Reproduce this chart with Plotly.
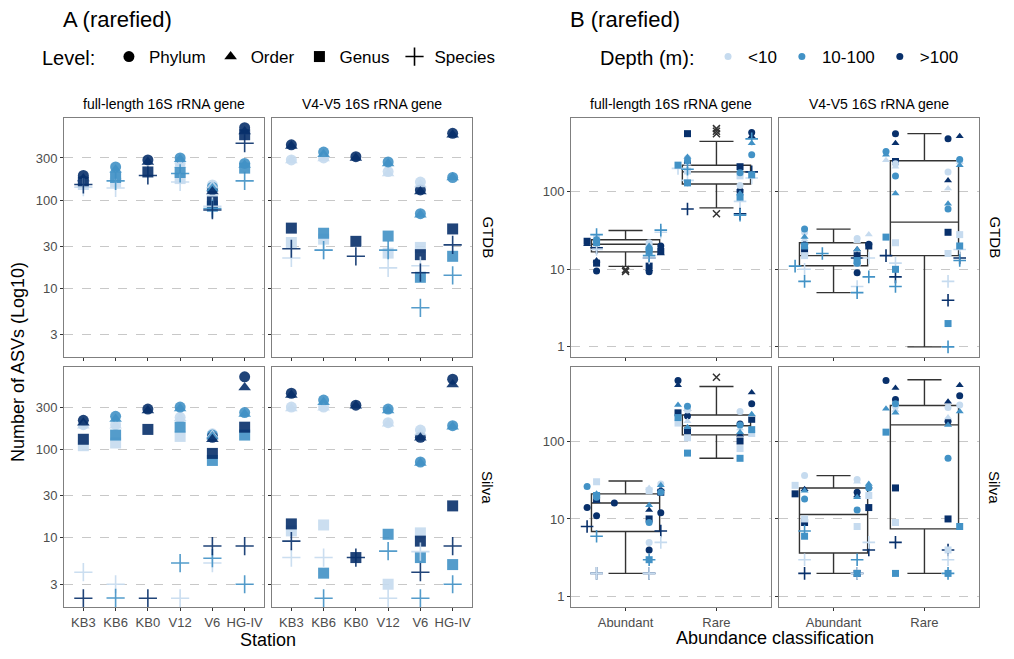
#!/usr/bin/python3

###
# Number of ASVs per taxonomic level (rarefied)
# A: per station, B: abundant vs rare classification

import plotly.graph_objs as go

Stations = ["KB3", "KB6", "KB0", "V12", "V6", "HG-IV"]
Levels = ["Phylum", "Order", "Genus", "Species"]
Depths = ["<10", "10-100", ">100"]
DepthColors = {"L": "#c6dbef", "M": "#4292c6", "D": "#08306b"}
DepthCodes = {"<10": "L", "10-100": "M", ">100": "D"}
Symbols = {"P": "circle", "O": "triangle-up", "G": "square", "S": "cross-thin"}

# Panel A values: level -> depth -> one value per station
GTDB_FULL = {
    "P": {"L": [165, 195, None, 260, 148, None], "M": [None, 237, None, 300, 140, 260], "D": [190, None, 285, None, 130, 660]},
    "O": {"L": [160, 185, None, 250, 145, None], "M": [None, 220, None, 290, 135, 250], "D": [175, None, 270, None, 125, 600]},
    "G": {"L": [150, 160, None, 175, 100, None], "M": [None, 180, None, 205, 85, 230], "D": [160, None, 208, None, 95, 550]},
    "S": {"L": [140, 137, None, 160, 85, None], "M": [None, 165, None, 200, 80, 165], "D": [150, None, 190, None, 77, 440]},
}
GTDB_V4 = {
    "P": {"L": [285, 300, None, 210, 160, None], "M": [None, 350, None, 270, 70, 180], "D": [422, None, 310, None, 130, 570]},
    "O": {"L": [280, 295, None, 200, 150, None], "M": [None, 330, None, 260, 68, 180], "D": [410, None, 300, None, 125, 550]},
    "G": {"L": [33, 36, None, 25, 29, None], "M": [None, 42, None, 39, 13.3, 23], "D": [48, None, 34, None, 24, 47]},
    "S": {"L": [22, 27, None, 17, 18, None], "M": [None, 27, None, 27, 6, 14], "D": [28, None, 23, None, 15, 31]},
}
SILVA_FULL = {
    "P": {"L": [190, 190, None, 230, 150, None], "M": [None, 236, None, 300, 145, 260], "D": [213, None, 285, None, 137, 660]},
    "O": {"L": [185, 185, None, 225, 145, None], "M": [None, 220, None, 290, 140, 250], "D": [200, None, 275, None, 130, 500]},
    "G": {"L": [110, 118, None, 140, None, None], "M": [None, 145, None, 178, 75, 145], "D": [130, None, 168, None, 90, 178]},
    "S": {"L": [4.1, 3, None, 2.08, 5.2, None], "M": [None, 2.1, None, 5.2, 5.9, 3], "D": [2.08, None, 2.08, None, 8.1, 8.1]},
}
SILVA_V4 = {
    "P": {"L": [300, 300, None, 200, 165, None], "M": [None, 360, None, 285, 72, 185], "D": [430, None, 315, None, 137, 620]},
    "O": {"L": [290, 295, None, 195, 155, None], "M": [None, 340, None, 275, 70, 180], "D": [410, None, 310, None, 135, 540]},
    "G": {"L": [12, 14, None, 3, 11.4, None], "M": [None, 4, None, 11, 6, 5], "D": [14.4, None, 6, None, 9.2, 23]},
    "S": {"L": [6, 6, None, 2.08, 7, None], "M": [None, 2.08, None, 7.1, 2.08, 3], "D": [9.2, None, 6, None, 4.1, 8.1]},
}

# Panel B: box statistics per (database, gene) for Abundant, Rare
BoxQ1 = {"GTDB_FULL": [16.8, 126], "GTDB_V4": [11.1, 15], "SILVA_FULL": [6.9, 120], "SILVA_V4": [3.65, 7.45]}
BoxMed = {"GTDB_FULL": [21, 180], "GTDB_V4": [15, 40.6], "SILVA_FULL": [16, 157], "SILVA_V4": [11.4, 161]}
BoxQ3 = {"GTDB_FULL": [24, 219], "GTDB_V4": [22, 251], "SILVA_FULL": [21, 216], "SILVA_V4": [25, 286]}
BoxLow = {"GTDB_FULL": [10.9, 62], "GTDB_V4": [5, 1], "SILVA_FULL": [2, 60], "SILVA_V4": [2, 2]}
BoxHigh = {"GTDB_FULL": [31.6, 446], "GTDB_V4": [33, 560], "SILVA_FULL": [30.7, 500], "SILVA_V4": [36, 612]}
OutX = {"GTDB_FULL": ["Abundant", "Abundant", "Rare", "Rare", "Rare", "Rare"], "GTDB_V4": [], "SILVA_FULL": ["Rare"], "SILVA_V4": []}
OutY = {"GTDB_FULL": [9.4, 9.9, 52, 650, 600, 560], "GTDB_V4": [], "SILVA_FULL": [660], "SILVA_V4": []}

# Panel B: points per sample (value, depth+level code)
GTDB_FULL_AB = [32, 30, 28, 26, 25, 24, 24, 23, 22, 22, 21, 21, 20, 20, 19, 19, 18, 18, 17, 17, 16, 15, 14, 13, 12, 11, 10, 9.5, 9.3, 14]
GTDB_FULL_AB_C = ["MS", "LS", "MS", "LO", "LG", "LP", "MP", "DG", "LP", "MG", "DO", "LO", "DP", "MO", "LG", "DS", "MP", "LS", "MG", "DG", "DO", "MS", "DS", "DO", "DG", "DG", "DO", "DP", "DP", "LS"]
GTDB_FULL_RA = [580, 560, 520, 480, 420, 300, 280, 270, 250, 240, 230, 220, 210, 200, 195, 190, 185, 180, 175, 170, 165, 160, 150, 140, 130, 120, 110, 100, 95, 85, 75, 60, 52, 50]
GTDB_FULL_RA_C = ["DP", "DG", "DO", "MS", "MO", "MP", "MO", "LP", "MP", "DP", "LO", "MG", "DG", "LS", "MS", "DO", "LG", "DS", "MP", "LO", "MG", "LG", "LS", "LS", "MG", "LP", "DO", "DP", "MO", "MG", "LS", "DS", "DS", "MS"]
GTDB_V4_AB = [33, 30, 28, 26, 25, 24, 23, 22, 21, 20, 20, 19, 18, 18, 17, 16, 15, 15, 14, 14, 13, 12, 12, 11, 10, 9, 8, 7, 6, 5]
GTDB_V4_AB_C = ["MP", "LP", "LO", "MO", "LP", "LO", "LO", "DO", "DP", "DG", "MG", "DP", "MO", "DO", "DG", "MS", "DG", "LG", "LS", "DS", "MG", "MP", "LG", "MS", "LS", "DP", "MS", "MS", "LS", "MS"]
GTDB_V4_RA = [560, 520, 480, 420, 330, 300, 260, 255, 250, 245, 240, 230, 220, 210, 180, 160, 140, 110, 95, 70, 60, 30, 28, 26, 22, 20, 18, 16, 15, 14, 13, 12, 10, 8, 7, 6, 4, 2, 1]
GTDB_V4_RA_C = ["DP", "DO", "DP", "DO", "MP", "MO", "MP", "LO", "LP", "DG", "LO", "LP", "MO", "LO", "LP", "MP", "DO", "LO", "MO", "MO", "MP", "DG", "LG", "MG", "LG", "MG", "LS", "LG", "DS", "DS", "MS", "LS", "MG", "DS", "LS", "MS", "DS", "MG", "MS"]
SILVA_FULL_AB = [30, 28, 27, 26, 25, 24, 23, 22, 22, 21, 20, 20, 19, 18, 17, 16, 15, 14, 13, 12, 11, 10, 9, 8, 7, 6, 5, 5, 4, 3, 3, 2, 2, 2, 2]
SILVA_FULL_AB_C = ["LG", "LP", "MO", "MP", "LO", "DO", "LG", "DG", "MP", "MO", "MG", "LP", "MP", "DG", "DO", "DP", "MO", "DP", "DO", "DP", "DP", "DG", "MP", "DS", "DS", "MS", "LS", "LP", "DP", "MG", "MS", "LS", "DS", "DS", "LS"]
SILVA_FULL_RA = [600, 520, 420, 300, 290, 280, 260, 250, 240, 230, 220, 215, 210, 200, 190, 180, 170, 165, 160, 150, 145, 140, 135, 130, 125, 120, 110, 100, 80, 70, 60]
SILVA_FULL_RA_C = ["DP", "DO", "DO", "DP", "MO", "MP", "DO", "LP", "LP", "DG", "MO", "LO", "DP", "MG", "DG", "LO", "LG", "DP", "MP", "MO", "LO", "MG", "DG", "MO", "LG", "DO", "LG", "DG", "LG", "MG", "MG"]
SILVA_V4_AB = [36, 32, 30, 28, 27, 26, 25, 24, 23, 22, 21, 20, 20, 19, 18, 14, 13, 10, 9, 8, 7, 6, 5, 4, 3, 3, 2, 2, 2, 2, 2]
SILVA_V4_AB_C = ["LP", "LP", "LO", "MO", "LG", "DO", "MP", "DO", "MO", "DP", "DG", "DO", "LG", "MO", "MP", "DG", "MP", "LG", "DG", "LG", "MS", "MG", "LS", "DS", "MS", "LS", "DS", "MG", "DG", "DS", "LS"]
SILVA_V4_RA = [600, 520, 480, 380, 340, 320, 300, 290, 280, 270, 260, 250, 240, 230, 200, 180, 160, 130, 60, 25, 10, 9, 8, 5, 4, 4, 3, 2, 2, 2]
SILVA_V4_RA_C = ["DP", "DO", "DO", "DP", "DP", "DO", "MP", "LP", "LP", "LP", "MO", "LO", "MO", "MO", "LO", "DP", "MO", "MG", "MP", "DG", "DG", "LG", "MG", "DS", "LG", "DS", "LS", "MG", "MG", "MS"]

Points = {
    "GTDB_FULL": [(GTDB_FULL_AB, GTDB_FULL_AB_C), (GTDB_FULL_RA, GTDB_FULL_RA_C)],
    "GTDB_V4": [(GTDB_V4_AB, GTDB_V4_AB_C), (GTDB_V4_RA, GTDB_V4_RA_C)],
    "SILVA_FULL": [(SILVA_FULL_AB, SILVA_FULL_AB_C), (SILVA_FULL_RA, SILVA_FULL_RA_C)],
    "SILVA_V4": [(SILVA_V4_AB, SILVA_V4_AB_C), (SILVA_V4_RA, SILVA_V4_RA_C)],
}
Classes = ["Abundant", "Rare"]

W, H = 1014.0, 659.0
OX, OY = 8, 8  # page offset of the figure in the browser
FontName = "Liberation Sans"
Frame = "#7f7f7f"

def px_x(a, b):
    return [(a - OX)/W, (b - OX)/W]

def px_y(top, bottom):
    return [1 - (bottom - OY)/H, 1 - (top - OY)/H]

def note(text, x, y, size, angle=0, xanchor="center"):
    # text at pixel position (x, y), anchored at its middle
    return dict(text=text, x=(x - OX)/W, y=1 - (y - OY)/H, xref="paper", yref="paper", showarrow=False,
                xanchor=xanchor, yanchor="middle", textangle=angle, font=dict(size=size))

def marker_for(code, size):
    col = DepthColors[code[0]]
    if code[1] == "S":
        return dict(symbol="cross-thin", size=size + 2, color=col, line=dict(color=col, width=1.6))
    return dict(symbol=Symbols[code[1]], size=size, color=col, line=dict(width=0))

# Panels: (name, data, row, col)
Cols = {"A": [(64, 264), (272, 472)], "B": [(571, 771), (779, 979)]}
Rows = [(118, 357), (367, 607)]
PanelA = [("GTDB_FULL", GTDB_FULL, 0, 0), ("GTDB_V4", GTDB_V4, 0, 1), ("SILVA_FULL", SILVA_FULL, 1, 0), ("SILVA_V4", SILVA_V4, 1, 1)]

graphData = []
notes = []
axes = {}
n = 0
for part in ["A", "B"]:
    for name, data, r, c in PanelA:
        n += 1
        xa = "x" if n == 1 else "x%d" % n
        ya = "y" if n == 1 else "y%d" % n
        xdom = px_x(*Cols[part][c])
        ydom = px_y(*Rows[r])
        common = dict(showline=True, mirror=True, linecolor=Frame, linewidth=1, zeroline=False, automargin=False,
                      ticks="outside", ticklen=3, tickcolor="#333333", tickfont=dict(size=13, color="#4d4d4d"))
        if part == "A":
            axes["xaxis%d" % n] = dict(domain=xdom, anchor=ya, range=[-0.6, 5.6], tickvals=list(range(6)),
                                       ticktext=Stations, showticklabels=(r == 1), showgrid=False, **common)
            axes["yaxis%d" % n] = dict(domain=ydom, anchor=xa, type="log", range=[0.22, 2.93],
                                       tickvals=[3, 10, 30, 100, 300], showticklabels=(c == 0),
                                       showgrid=True, gridcolor="#c8c8c8", griddash="dash", gridwidth=1, **common)
            for lv in ["P", "O", "G", "S"]:
                for dp in ["L", "M", "D"]:
                    graphData.append(go.Scatter(
                        x=list(range(6)), y=data[lv][dp], mode="markers", xaxis=xa, yaxis=ya,
                        marker=marker_for(dp + lv, 11), opacity=0.9, showlegend=False))
        else:
            axes["xaxis%d" % n] = dict(domain=xdom, anchor=ya, type="category", range=[-0.6, 1.6],
                                       categoryorder="array", categoryarray=Classes,
                                       showticklabels=(r == 1), showgrid=False, **common)
            axes["yaxis%d" % n] = dict(domain=ydom, anchor=xa, type="log", range=[-0.13, 2.95],
                                       tickvals=[1, 10, 100], showticklabels=(c == 0),
                                       showgrid=True, gridcolor="#c8c8c8", griddash="dash", gridwidth=1, **common)
            graphData.append(go.Box(
                x=Classes, q1=BoxQ1[name], median=BoxMed[name], q3=BoxQ3[name],
                lowerfence=BoxLow[name], upperfence=BoxHigh[name], width=0.75,
                line=dict(color="#333333", width=1.4), fillcolor="rgba(255,255,255,0)",
                boxpoints=False, xaxis=xa, yaxis=ya, showlegend=False))
            graphData.append(go.Scatter(
                x=OutX[name], y=OutY[name], mode="markers", xaxis=xa, yaxis=ya, showlegend=False,
                marker=dict(symbol="x-thin", size=7, color="#333333", line=dict(color="#333333", width=1.5))))
            for k, cls in enumerate(Classes):
                vals, codes = Points[name][k]
                for code in sorted(set(codes)):
                    yy = [v for v, cc in zip(vals, codes) if cc == code]
                    graphData.append(go.Box(
                        x=[cls]*len(yy), y=yy, width=1.0, boxpoints="all", jitter=1, pointpos=0,
                        line=dict(width=0, color="rgba(0,0,0,0)"), fillcolor="rgba(0,0,0,0)",
                        marker=marker_for(code, 7), xaxis=xa, yaxis=ya, showlegend=False))
        # strips
        x0, x1 = Cols[part][c]
        y0, y1 = Rows[r]
        if r == 0:
            notes.append(note(["full-length 16S rRNA gene", "V4-V5 16S rRNA gene"][c], (x0 + x1)/2, 104, 14))
        if c == 1:
            notes.append(note(["GTDB", "Silva"][r], x1 + 16, (y0 + y1)/2, 15, angle=90))

graphLayout = go.Layout(
    width=1014, height=659, margin=dict(l=0, r=0, t=0, b=0, autoexpand=False),
    plot_bgcolor="white", paper_bgcolor="white",
    font=dict(family=FontName, size=13, color="black"),
    boxmode="overlay",
)
for k, v in axes.items():
    graphLayout[k.replace("1", "") if k in ("xaxis1", "yaxis1") else k] = v

# Legends
for lv, lname in zip(["P", "O", "G", "S"], Levels):
    m = marker_for("D" + lv, 11)
    m["color"] = "black"
    m["line"]["color"] = "black"
    graphData.append(go.Scatter(x=[None], y=[None], mode="markers", name=lname, marker=m, legend="legend"))
for d in Depths:
    graphData.append(go.Scatter(x=[None], y=[None], mode="markers", name=d, legend="legend2",
                                marker=dict(symbol="circle", size=7, color=DepthColors[DepthCodes[d]])))
graphLayout.legend = dict(orientation="h", x=(40 - OX)/W, y=1 - (57 - OY)/H, yanchor="middle", xanchor="left",
                          title=dict(text="Level: ", side="left"), font=dict(size=17), itemwidth=30)
graphLayout.legend2 = dict(orientation="h", x=(598 - OX)/W, y=1 - (57 - OY)/H, yanchor="middle", xanchor="left",
                           title=dict(text="Depth (m): ", side="left"), font=dict(size=17), itemwidth=30)

notes += [
    note("A (rarefied)", 61, 20, 22, xanchor="left"),
    note("B (rarefied)", 568, 20, 22, xanchor="left"),
    note("Number of ASVs (Log10)", 18, 362, 18, angle=-90),
    note("Station", 268, 640, 18),
    note("Abundance classification", 775, 638, 18),
]
graphLayout.annotations = notes

graphFigure = go.Figure(data=graphData, layout=graphLayout)
graphFigure.write_html("out.html")
